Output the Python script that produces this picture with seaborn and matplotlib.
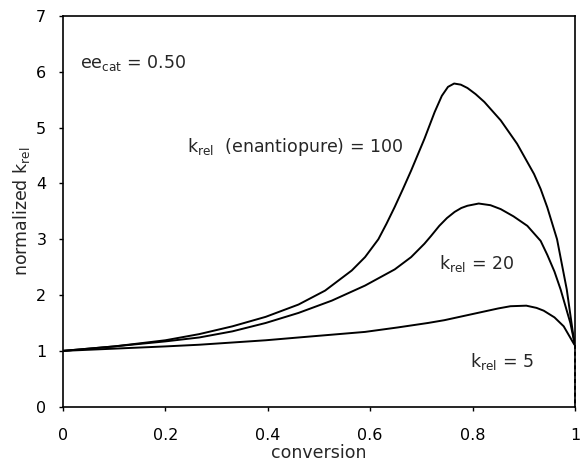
import matplotlib
matplotlib.use("Agg")
import matplotlib.pyplot as plt
import seaborn as sns
import pandas as pd

# ---- data ----
x100 = [0.0, 0.1, 0.2, 0.266, 0.331, 0.396, 0.46, 0.512, 0.564, 0.59, 0.616, 0.632, 0.648,
        0.664, 0.680, 0.706, 0.726, 0.740, 0.752, 0.764, 0.777, 0.790, 0.806, 0.823,
        0.855, 0.887, 0.920, 0.933, 0.946, 0.965, 0.984, 0.997, 1.0]
y100 = [1.0, 1.08, 1.19, 1.30, 1.44, 1.61, 1.83, 2.08, 2.44, 2.68, 3.00, 3.28, 3.58,
        3.90, 4.23, 4.80, 5.28, 5.57, 5.73, 5.79, 5.77, 5.71, 5.60, 5.46,
        5.13, 4.71, 4.17, 3.90, 3.57, 3.00, 2.10, 1.26, 1.10]

x20 = [0.0, 0.1, 0.2, 0.266, 0.331, 0.396, 0.46, 0.525, 0.590, 0.648, 0.680, 0.706,
       0.719, 0.735, 0.750, 0.765, 0.778, 0.790, 0.812, 0.835, 0.855, 0.880, 0.907,
       0.933, 0.946, 0.960, 0.972, 0.991, 1.0]
y20 = [1.0, 1.08, 1.17, 1.24, 1.35, 1.50, 1.68, 1.90, 2.17, 2.46, 2.68, 2.92,
       3.06, 3.24, 3.38, 3.49, 3.56, 3.60, 3.64, 3.61, 3.54, 3.41, 3.24,
       2.97, 2.72, 2.42, 2.10, 1.50, 1.10]

x5 = [0.0, 0.1, 0.2, 0.266, 0.331, 0.396, 0.46, 0.525, 0.59, 0.654, 0.713, 0.745,
      0.810, 0.850, 0.874, 0.905, 0.925, 0.939, 0.960, 0.978, 0.997, 1.0]
y5 = [1.0, 1.04, 1.08, 1.11, 1.15, 1.19, 1.24, 1.29, 1.34, 1.42, 1.50, 1.55,
      1.68, 1.76, 1.80, 1.81, 1.77, 1.72, 1.60, 1.44, 1.14, 1.10]

x_drop = [1.0, 1.0]
y_drop = [1.10, 0.0]

x_ticks = [0, 0.2, 0.4, 0.6, 0.8, 1]
x_ticklabels = ["0", "0.2", "0.4", "0.6", "0.8", "1"]
y_ticks = [0, 1, 2, 3, 4, 5, 6, 7]

sns.set_style("ticks")
plt.rcParams["font.family"] = ["DejaVu Sans"]
plt.rcParams["mathtext.fontset"] = "dejavusans"

fig = plt.figure(figsize=(5.81, 4.65), dpi=100)
ax = fig.add_axes([0.1084, 0.1254, 0.8812, 0.8402])

frames = []
for name, xs, ys in [("100", x100, y100), ("20", x20, y20), ("5", x5, y5)]:
    frames.append(pd.DataFrame({"x": xs, "y": ys, "k": name}))
df = pd.concat(frames, ignore_index=True)

sns.lineplot(data=df, x="x", y="y", units="k", estimator=None, sort=False,
             color="black", linewidth=1.4, ax=ax, legend=False)
ax.plot(x_drop, y_drop, color="black", linewidth=1.4, linestyle=(0, (2, 1.5)),
        clip_on=False, zorder=5)

ax.set_xlim(0, 1)
ax.set_ylim(0, 7)
ax.set_xticks(x_ticks)
ax.set_xticklabels(x_ticklabels)
ax.set_yticks(y_ticks)
ax.tick_params(direction="out", length=3, width=1, labelsize=11.5, colors="black")
ax.tick_params(axis="x", pad=12)
ax.tick_params(axis="y", pad=9)
for s in ax.spines.values():
    s.set_visible(True)
    s.set_linewidth(1.2)
    s.set_color("black")

ax.set_xlabel("conversion", fontsize=12.5, labelpad=1)
ax.set_ylabel(r"normalized k$_{\mathrm{rel}}$", fontsize=12.5, labelpad=3)

ax.text(0.033, 6.06, r"ee$_{\mathrm{cat}}$ = 0.50", fontsize=12.5, va="baseline")
ax.text(0.243, 4.56, r"k$_{\mathrm{rel}}$  (enantiopure) = 100", fontsize=12.5, va="baseline")
ax.text(0.735, 2.46, r"k$_{\mathrm{rel}}$ = 20", fontsize=12.5, va="baseline")
ax.text(0.795, 0.72, r"k$_{\mathrm{rel}}$ = 5", fontsize=12.5, va="baseline")

fig.savefig("out.png", dpi=100)
